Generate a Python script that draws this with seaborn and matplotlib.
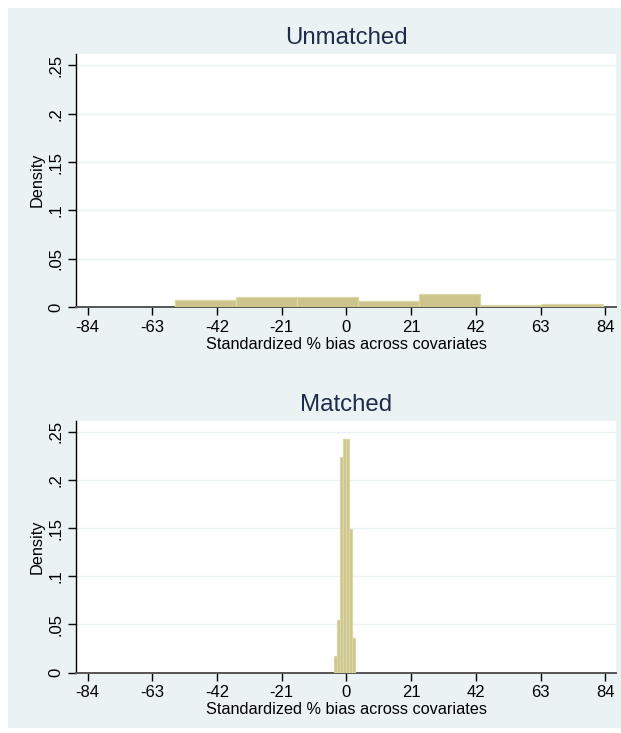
import numpy as np
import pandas as pd
import matplotlib
matplotlib.use("Agg")
import matplotlib.pyplot as plt
from matplotlib.patches import Rectangle
import seaborn as sns

sns.set_theme(style="white")
plt.rcParams['font.family'] = ['Liberation Sans', 'DejaVu Sans']

# ---- data ----
panel_titles = ["Unmatched", "Matched"]
x_label = "Standardized % bias across covariates"
y_label = "Density"
x_ticks = [-84, -63, -42, -21, 0, 21, 42, 63, 84]
y_ticks = [0, 0.05, 0.10, 0.15, 0.20, 0.25]
y_tick_labels = ["0", ".05", ".1", ".15", ".2", ".25"]

unmatched_edges = [-55.7, -35.9, -16.1, 3.7, 23.6, 43.5, 63.3, 83.2]
unmatched_density = [0.0075, 0.0103, 0.0103, 0.0065, 0.0134, 0.0024, 0.0034]

matched_edges = [-4.06, -3.07, -2.08, -1.09, -0.10, 0.89, 1.88, 2.87]
matched_density = [0.0176, 0.055, 0.224, 0.242, 0.242, 0.149, 0.036]

# ---- style ----
W, H = 621, 733
BG = "#EAF2F3"
BAR = "#CCC48B"
BAR_EDGE = "#DCD7A6"
TITLE_C = "#1E2B4B"
GRID = "#EAF2F3"

fig = plt.figure(figsize=(W / 100, H / 100), dpi=100)
fig.patch.set_facecolor("white")
fig.patches.append(Rectangle((8 / W, 1 - 728 / H), 1 - 8 / W, (728 - 8) / H,
                             transform=fig.transFigure, facecolor=BG,
                             edgecolor="none", zorder=-10))

panels = [
    dict(title=panel_titles[0], edges=unmatched_edges, dens=unmatched_density,
         top=54.0, bottom=307.3, title_y=38.5, ylab_y=180),
    dict(title=panel_titles[1], edges=matched_edges, dens=matched_density,
         top=420.7, bottom=672.5, title_y=405, ylab_y=547),
]

for p in panels:
    left, right = 76, 616
    ax = fig.add_axes([left / W, 1 - p["bottom"] / H, (right - left) / W,
                       (p["bottom"] - p["top"]) / H])
    ax.set_zorder(1)
    ax.set_facecolor("white")
    edges = list(p["edges"])
    centers = [(a + b) / 2 for a, b in zip(edges[:-1], edges[1:])]
    df = pd.DataFrame({"x": centers, "w": list(p["dens"])})
    sns.histplot(data=df, x="x", weights="w", bins=edges, stat="count",
                 color=BAR, edgecolor=BAR_EDGE, linewidth=0.9, alpha=1.0,
                 ax=ax, zorder=3)
    ax.set_xlim(-87.8, 87.5)
    ax.set_ylim(0, 0.2615)
    ax.set_xticks(x_ticks)
    ax.set_xticklabels([str(t) for t in x_ticks], fontsize=12, color="black")
    ax.set_yticks(y_ticks)
    ax.set_yticklabels(y_tick_labels, fontsize=12, color="black",
                       rotation=90, va="center")
    ax.tick_params(axis="both", which="major", direction="out", length=6,
                   width=1.0, color="black", bottom=True, left=True, pad=3)
    ax.yaxis.grid(True, color=GRID, linewidth=1.0, zorder=0)
    ax.xaxis.grid(False)
    ax.set_axisbelow(True)
    for s in ["top", "right"]:
        ax.spines[s].set_visible(False)
    ax.spines["left"].set_color("black")
    ax.spines["left"].set_linewidth(1.0)
    ax.spines["bottom"].set_color("#555555")
    ax.spines["bottom"].set_linewidth(1.4)
    ax.set_xlabel(x_label, fontsize=11.7, color="black", labelpad=1.5)
    ax.set_ylabel("")
    fig.text(346 / W, 1 - p["title_y"] / H, p["title"], ha="center",
             va="center", fontsize=17.3, color=TITLE_C)
    fig.text(37 / W, 1 - p["ylab_y"] / H, y_label, ha="center", va="center",
             rotation=90, fontsize=11.7, color="black")

fig.savefig("out.png", dpi=100, facecolor="white")
